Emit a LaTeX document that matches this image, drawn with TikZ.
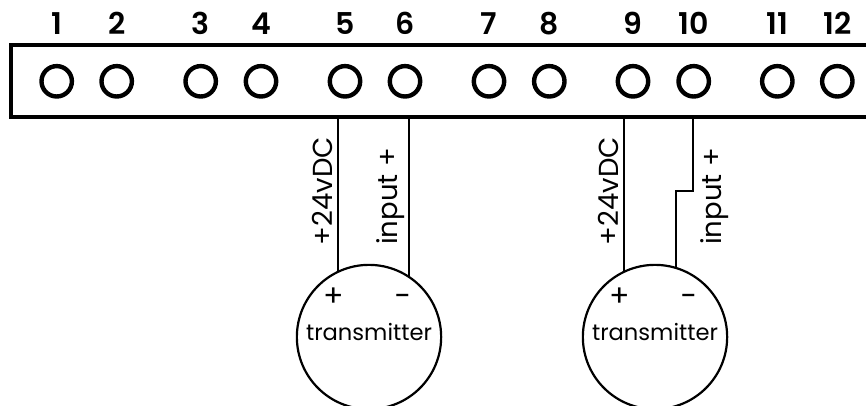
\documentclass[tikz,border=0pt]{standalone}
\usepackage{fontspec}
\setmainfont{Poppins}
\newfontfamily\numfont{Poppins SemiBold}
\tikzset{
  terminal/.style={circle,draw,line width=4.4pt,minimum size=30.4pt,inner sep=0pt},
  termnum/.style={anchor=base,inner sep=0pt,font=\numfont\fontsize{30}{30}\selectfont},
  xmit/.style={circle,draw,line width=2.2pt,minimum size=144.3pt,inner sep=0pt},
  wire/.style={line width=2.2pt,line join=miter},
  wirelabel/.style={rotate=90,anchor=base west,inner sep=0pt,font=\fontsize{27.5}{27.5}\selectfont},
  signlabel/.style={inner sep=0pt,font=\fontsize{30}{30}\selectfont},
  xmitlabel/.style={inner sep=0pt,anchor=base,font=\fontsize{22.6}{22.6}\selectfont}
}
\begin{document}
\begin{tikzpicture}[x=1pt,y=-1pt]
\useasboundingbox (0,0) rectangle (866,405);
\clip (0,0) rectangle (866,405);
\fill[white] (0,0) rectangle (866,405);
\draw[line width=4.4pt,miter limit=10] (866,45) -- (11.2,45) -- (11.2,117) -- (866,117);
\coordinate (bar5) at (338.3,117);
\coordinate (bar6) at (409.3,117);
\coordinate (bar9) at (624.3,117);
\coordinate (bar10) at (693.3,117);
\foreach \n/\x in {1/56.7,2/116.7,3/200.7,4/261,5/345,6/405,7/489,8/549.3,9/633,10/693.7,11/777.3,12/837.3}{
  \node[terminal] (t\n) at (\x,81.3) {};
  \node[termnum] (n\n) at (\x,34) {\n};
}
\node[xmit] (x1) at (369,337) {};
\node[xmit] (x2) at (655,337) {};
\draw[wire] (bar5) -- (bar5 |- x1.115.2);
\draw[wire] (bar6) -- (bar6 |- x1.55.9);
\draw[wire] (bar9) -- (bar9 |- x2.115.3);
\coordinate (j1) at (693.3,191);
\coordinate (j2) at (676,191);
\draw[wire] (bar10) -- (j1) -- (j2) -- (j2 |- x2.73);
\node[wirelabel] (a1) at (332,245.5) {+24vDC};
\node[wirelabel] (a2) at (397.7,245) {input +};
\node[wirelabel] (b1) at (618,245.5) {+24vDC};
\node[wirelabel] (b2) at (721.5,245) {input +};
\node[signlabel] (p1) at (334,297) {+};
\node[signlabel] (m1) at (403,300) {−};
\node[signlabel] (p2) at (620,297) {+};
\node[signlabel] (m2) at (689,300) {−};
\node[xmitlabel] (l1) at (369,340.5) {transmitter};
\node[xmitlabel] (l2) at (655,340.5) {transmitter};
\end{tikzpicture}
\end{document}
